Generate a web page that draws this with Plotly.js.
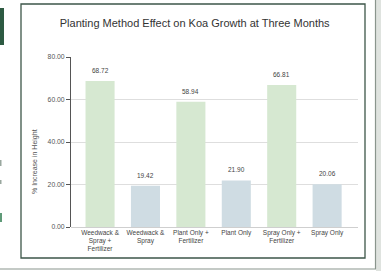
<!DOCTYPE html>
<html><head><meta charset="utf-8">
<script src="https://cdn.plot.ly/plotly-3.0.1.min.js"></script>
<style>html,body{margin:0;padding:0;background:#fff;}#chart{width:381px;height:271px;}</style>
</head><body><div id="chart"></div>
<script>
const categories = ["Weedwack &<br>Spray +<br>Fertilizer","Weedwack &<br>Spray","Plant Only +<br>Fertilizer","Plant Only","Spray Only +<br>Fertilizer","Spray Only"];
const values = [68.72, 19.42, 58.94, 21.90, 66.81, 20.06];
const labels = ["68.72","19.42","58.94","21.90","66.81","20.06"];
const barColors = ["#d6e8d1","#cfdce3","#d6e8d1","#cfdce3","#d6e8d1","#cfdce3"];
const yTicks = [0,20,40,60,80];

const L=71, R=23, T=57, B=44, W=381, H=271;
const pw=W-L-R, ph=H-T-B;
const xp = px => (px-L)/pw;
const yp = py => (H-B-py)/ph;

const trace = {
  type:'bar', x:[0,1,2,3,4,5], y:values,
  marker:{color:barColors}, width:0.64, hoverinfo:'none'
};
const valueLabels = values.map((v,i)=>({
  x:i, y:v, xref:'x', yref:'y', text:labels[i], showarrow:false,
  yanchor:'bottom', yshift:5, font:{size:6.5, color:'#444'}
}));
const layout = {
  width:W, height:H, margin:{l:L,r:R,t:T,b:B},
  paper_bgcolor:'rgba(0,0,0,0)', plot_bgcolor:'rgba(0,0,0,0)',
  showlegend:false,
  font:{family:'Liberation Sans, Arial, sans-serif', color:'#333'},
  title:{text:'Planting Method Effect on Koa Growth at Three Months', xref:'container', yref:'container',
    x:0.511, xanchor:'center', y:1-22.7/H, yanchor:'middle', font:{size:11, color:'#333'}},
  xaxis:{range:[-0.64,5.68], tickmode:'array', tickvals:[0,1,2,3,4,5], ticktext:categories,
    tickfont:{size:6.5, color:'#444'}, showgrid:false, zeroline:false, showline:false, ticks:''},
  yaxis:{range:[0,80], tickmode:'array', tickvals:yTicks, ticktext:yTicks.map(v=>v.toFixed(2)),
    tickfont:{size:6.8, color:'#555'}, showgrid:true, gridcolor:'#dedede', gridwidth:1,
    zeroline:true, zerolinecolor:'#cfcfcf', showline:true, linecolor:'#555', linewidth:1,
    ticks:'outside', ticklen:4, tickcolor:'#555'},
  annotations:[{text:'% Increase in Height', xref:'paper', yref:'paper', x:xp(35), y:yp(162),
    textangle:-90, showarrow:false, font:{size:7, color:'#555'}, xanchor:'center', yanchor:'middle'}].concat(valueLabels),
  shapes:[
    {type:'rect', xref:'paper', yref:'paper', x0:xp(21), x1:xp(365), y0:yp(258), y1:yp(4), line:{color:'#3d5649', width:1.3}, layer:'below'},
    {type:'rect', xref:'paper', yref:'paper', x0:xp(376), x1:xp(381), y0:yp(271), y1:yp(0), fillcolor:'#dfe3df', line:{width:0}, layer:'below'},
    {type:'line', xref:'paper', yref:'paper', x0:xp(375.5), x1:xp(375.5), y0:yp(269), y1:yp(0), line:{color:'#8a958d', width:1.2}},
    {type:'line', xref:'paper', yref:'paper', x0:xp(0), x1:xp(376), y0:yp(269), y1:yp(269), line:{color:'#8a958d', width:1.2}},
    {type:'rect', xref:'paper', yref:'paper', x0:xp(0), x1:xp(4), y0:yp(45), y1:yp(8), fillcolor:'#2d5a42', line:{width:0}},
    {type:'rect', xref:'paper', yref:'paper', x0:xp(0), x1:xp(2), y0:yp(222), y1:yp(213), fillcolor:'#5f9a78', line:{width:0}},
    {type:'rect', xref:'paper', yref:'paper', x0:xp(0), x1:xp(1.5), y0:yp(166), y1:yp(160), fillcolor:'#9aa89f', line:{width:0}},
    {type:'rect', xref:'paper', yref:'paper', x0:xp(0), x1:xp(1.5), y0:yp(184), y1:yp(180), fillcolor:'#9aa89f', line:{width:0}}
  ]
};
Plotly.newPlot('chart',[trace],layout,{staticPlot:true, displayModeBar:false});
</script></body></html>
